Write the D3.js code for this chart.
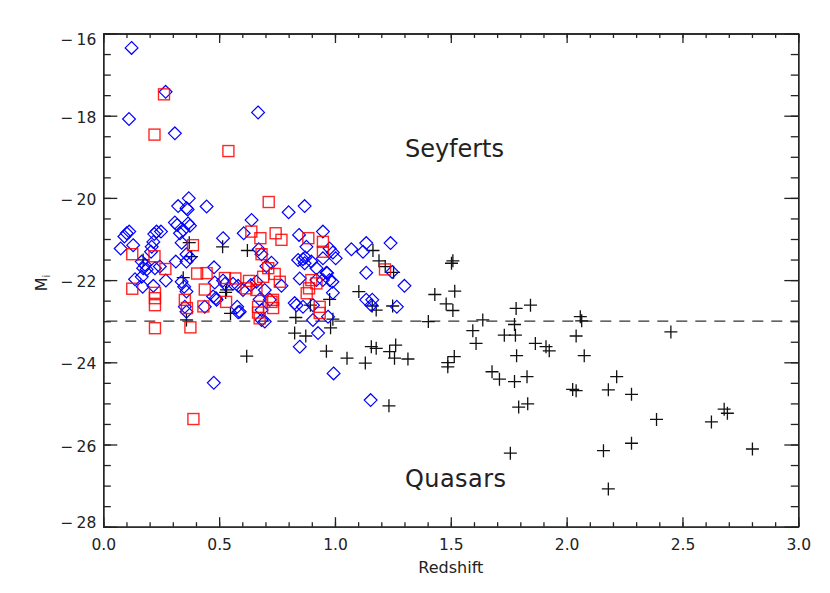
<!DOCTYPE html>
<html>
<head>
<meta charset="utf-8">
<script src="https://cdn.jsdelivr.net/npm/d3@7"></script>
<style>
  body { margin: 0; background: #fff; }
  text { font-family: "DejaVu Sans", "Noto Sans", sans-serif; fill: #222; }
</style>
</head>
<body>
<div id="chart"></div>
<script>
// quasars (black crosses): redshift, M_i
var quasarZ = [1.164, 1.190, 1.217, 1.253, 1.509, 1.503, 1.103, 1.431, 1.517, 0.977,
  1.480, 1.509, 1.161, 1.178, 1.249, 1.782, 1.844, 0.991, 0.981, 1.403,
  1.638, 1.775, 1.595, 1.731, 1.779, 1.609, 1.865, 1.911, 1.925, 0.963,
  1.157, 1.178, 1.262, 1.236, 1.257, 1.315, 1.052, 1.131, 1.515, 1.487,
  1.487, 1.784, 1.678, 1.710, 1.775, 1.829, 1.233, 1.793, 1.832, 2.059,
  2.065, 2.450, 2.041, 2.076, 2.216, 2.026, 2.041, 2.180, 2.280, 2.388,
  2.625, 2.680, 2.694, 2.159, 2.280, 2.802, 2.180, 1.757, 0.371, 0.515,
  0.381, 0.622, 0.345, 0.532, 0.528, 0.549, 0.359, 0.894, 0.831, 0.826,
  0.874, 0.619, 0.172];
var quasarM = [-21.28, -21.53, -21.67, -21.81, -21.53, -21.59, -22.28, -22.35, -22.27, -22.47,
  -22.58, -22.74, -22.63, -22.73, -22.63, -22.69, -22.61, -22.95, -23.16, -23.01,
  -22.97, -23.08, -23.23, -23.34, -23.34, -23.54, -23.54, -23.62, -23.72, -23.73,
  -23.62, -23.66, -23.58, -23.74, -23.90, -23.92, -23.90, -24.02, -23.86, -24.01,
  -24.11, -23.84, -24.23, -24.41, -24.47, -24.35, -25.06, -25.09, -25.01, -22.89,
  -22.99, -23.26, -23.36, -23.84, -24.35, -24.66, -24.69, -24.67, -24.78, -25.39,
  -25.45, -25.14, -25.24, -26.15, -25.97, -26.11, -27.08, -26.21, -21.09, -21.19,
  -21.43, -21.28, -21.94, -22.24, -22.30, -22.81, -22.97, -22.61, -22.91, -23.29,
  -23.36, -23.85, -21.51];

// red squares
var squareZ = [0.262, 0.221, 0.540, 0.714, 0.639, 0.678, 0.744, 0.769, 0.387, 0.125,
  0.221, 0.268, 0.405, 0.446, 0.525, 0.570, 0.629, 0.690, 0.740, 0.712,
  0.683, 0.125, 0.438, 0.223, 0.223, 0.223, 0.352, 0.361, 0.432, 0.530,
  0.618, 0.661, 0.668, 0.668, 0.675, 0.726, 0.733, 0.762, 0.885, 0.948,
  0.948, 0.898, 0.920, 0.888, 0.878, 0.934, 0.934, 0.223, 0.376, 0.389,
  1.216, 0.733];
var squareM = [-17.48, -18.46, -18.86, -20.10, -20.82, -20.98, -20.86, -21.02, -21.15, -21.37,
  -21.42, -21.73, -21.84, -21.83, -21.95, -21.96, -22.02, -21.92, -21.85, -21.71,
  -21.37, -22.21, -22.23, -22.31, -22.44, -22.61, -22.48, -22.68, -22.64, -22.53,
  -22.20, -22.24, -22.65, -22.79, -22.93, -22.53, -22.68, -22.04, -20.98, -21.07,
  -21.31, -22.00, -22.08, -22.20, -22.32, -22.65, -22.80, -23.17, -23.15, -25.38,
  -21.74, -22.48];

// blue diamonds
var diamondZ = [0.122, 0.269, 0.111, 0.309, 0.668, 0.369, 0.323, 0.364, 0.446, 0.309,
  0.319, 0.366, 0.374, 0.345, 0.331, 0.338, 0.230, 0.249, 0.101, 0.112,
  0.091, 0.220, 0.129, 0.075, 0.216, 0.209, 0.206, 0.166, 0.180, 0.172,
  0.187, 0.137, 0.166, 0.170, 0.270, 0.216, 0.244, 0.223, 0.313, 0.359,
  0.374, 0.359, 0.517, 0.478, 0.474, 0.486, 0.517, 0.338, 0.349, 0.359,
  0.352, 0.359, 0.438, 0.640, 0.606, 0.481, 0.525, 0.560, 0.582, 0.489,
  0.578, 0.582, 0.671, 0.683, 0.726, 0.637, 0.675, 0.719, 0.683, 0.697,
  0.359, 0.800, 0.869, 0.845, 0.948, 0.877, 0.841, 0.862, 0.869, 0.898,
  0.920, 0.848, 0.948, 0.920, 0.948, 0.963, 0.834, 0.862, 0.905, 0.927,
  0.704, 0.603, 0.661, 0.697, 0.589, 0.683, 0.769, 1.071, 1.121, 1.135,
  0.872, 0.977, 0.991, 1.135, 1.135, 0.826, 0.905, 0.970, 0.848, 1.240,
  0.977, 0.991, 1.003, 1.247, 1.300, 0.966, 0.989, 1.161, 1.157, 1.267,
  0.994, 1.154, 0.477];
var diamondM = [-16.35, -17.42, -18.08, -18.43, -17.92, -20.01, -20.20, -20.28, -20.21, -20.60,
  -20.66, -20.62, -20.68, -20.78, -20.86, -21.09, -20.82, -20.82, -20.86, -20.82,
  -20.94, -20.88, -21.15, -21.23, -21.07, -21.19, -21.31, -21.55, -21.63, -21.71,
  -21.74, -21.98, -21.92, -22.16, -22.01, -22.14, -21.67, -21.71, -21.55, -21.37,
  -21.45, -21.55, -20.98, -21.69, -22.40, -22.44, -22.01, -22.04, -22.16, -22.28,
  -22.65, -22.77, -22.65, -20.54, -20.86, -22.06, -22.09, -22.09, -22.14, -22.48,
  -22.65, -22.78, -21.25, -21.37, -21.58, -22.12, -22.47, -22.48, -22.73, -23.01,
  -20.25, -20.35, -20.20, -20.90, -20.82, -21.19, -21.51, -21.49, -21.59, -21.55,
  -21.71, -21.96, -21.47, -22.00, -22.00, -21.82, -22.61, -22.65, -22.61, -23.29,
  -21.66, -22.24, -22.04, -22.24, -22.77, -22.97, -22.14, -21.25, -21.31, -21.10,
  -21.45, -22.00, -22.31, -21.82, -22.48, -22.56, -22.97, -22.89, -23.62, -21.10,
  -21.23, -21.33, -21.47, -21.80, -22.14, -21.83, -22.04, -22.48, -22.61, -22.65,
  -24.27, -24.92, -24.50];

var xTicks = [0.0, 0.5, 1.0, 1.5, 2.0, 2.5, 3.0];
var yTicks = [-16, -18, -20, -22, -24, -26, -28];
var cutLine = -23;

var svgWidth = 830;
var svgHeight = 593;
var margin = { top: 33.5, right: 31.7, bottom: 66.3, left: 103.3 };
var width = svgWidth - margin.left - margin.right;
var height = svgHeight - margin.top - margin.bottom;

var svg = d3.select("#chart")
  .append("svg")
  .attr("width", svgWidth)
  .attr("height", svgHeight);

var chartGroup = svg.append("g")
  .attr("transform", `translate(${margin.left}, ${margin.top})`);

var xScale = d3.scaleLinear().domain([0, 3]).range([0, width]);
var yScale = d3.scaleLinear().domain([-16, -28]).range([0, height]);

// IDL style frame: ticks pointing inward on all four sides
function tickFormatMinus(d) {
  return "\u2212\u2009" + Math.abs(d);
}

var bottomAxis = d3.axisBottom(xScale).tickValues(xTicks).tickFormat(d3.format(".1f"))
  .tickSizeInner(-9.5).tickSizeOuter(0).tickPadding(12);
var bottomMinor = d3.axisBottom(xScale).tickValues(d3.range(0, 3.01, 0.1))
  .tickFormat("").tickSizeInner(-4.5).tickSizeOuter(0);
var topAxis = d3.axisTop(xScale).tickValues(xTicks).tickFormat("")
  .tickSizeInner(-9.5).tickSizeOuter(0);
var topMinor = d3.axisTop(xScale).tickValues(d3.range(0, 3.01, 0.1))
  .tickFormat("").tickSizeInner(-4.5).tickSizeOuter(0);
var leftAxis = d3.axisLeft(yScale).tickValues(yTicks).tickFormat(tickFormatMinus)
  .tickSizeInner(-14).tickSizeOuter(0).tickPadding(7);
var leftMinor = d3.axisLeft(yScale).tickValues(d3.range(-16, -28.01, -0.5))
  .tickFormat("").tickSizeInner(-7.5).tickSizeOuter(0);
var rightAxis = d3.axisRight(yScale).tickValues(yTicks).tickFormat("")
  .tickSizeInner(-14).tickSizeOuter(0);
var rightMinor = d3.axisRight(yScale).tickValues(d3.range(-16, -28.01, -0.5))
  .tickFormat("").tickSizeInner(-7.5).tickSizeOuter(0);

function styleAxis(g) {
  g.selectAll("path, line").attr("stroke", "#222").attr("stroke-width", 1.3);
  g.selectAll("text").attr("font-size", "15.5px").attr("fill", "#222")
    .style("font-family", "'DejaVu Sans', 'Noto Sans', sans-serif");
}

chartGroup.append("g").attr("transform", `translate(0, ${height})`).call(bottomMinor).call(styleAxis);
chartGroup.append("g").attr("transform", `translate(0, ${height})`).call(bottomAxis).call(styleAxis);
chartGroup.append("g").call(topMinor).call(styleAxis);
chartGroup.append("g").call(topAxis).call(styleAxis);
chartGroup.append("g").call(leftMinor).call(styleAxis);
chartGroup.append("g").call(leftAxis).call(styleAxis)
  .selectAll("text")
  .attr("dy", d => d === -16 ? "0.7em" : (d === -28 ? "0.05em" : "0.42em"));
chartGroup.append("g").attr("transform", `translate(${width}, 0)`).call(rightMinor).call(styleAxis);
chartGroup.append("g").attr("transform", `translate(${width}, 0)`).call(rightAxis).call(styleAxis);

// dashed dividing line at M_i = -23
chartGroup.append("line")
  .attr("x1", 0)
  .attr("x2", width)
  .attr("y1", yScale(cutLine))
  .attr("y2", yScale(cutLine))
  .attr("stroke", "#333")
  .attr("stroke-width", 1.3)
  .attr("stroke-dasharray", "11,8")
  .attr("stroke-dashoffset", -3);

var quasars = d3.zip(quasarZ, quasarM);
var squares = d3.zip(squareZ, squareM);
var diamonds = d3.zip(diamondZ, diamondM);

// crosses
chartGroup.selectAll(".quasar")
  .data(quasars)
  .enter()
  .append("path")
  .attr("class", "quasar")
  .attr("d", "M-6.5,0H6.5M0,-6.5V6.5")
  .attr("transform", d => `translate(${xScale(d[0])}, ${yScale(d[1])})`)
  .attr("fill", "none")
  .attr("stroke", "#111")
  .attr("stroke-width", 1.3);

// diamonds
chartGroup.selectAll(".diamond")
  .data(diamonds)
  .enter()
  .append("path")
  .attr("class", "diamond")
  .attr("d", "M0,-6.4L6.4,0L0,6.4L-6.4,0Z")
  .attr("transform", d => `translate(${xScale(d[0])}, ${yScale(d[1])})`)
  .attr("fill", "none")
  .attr("stroke", "#0000ff")
  .attr("stroke-width", 1.2);

// squares
chartGroup.selectAll(".square")
  .data(squares)
  .enter()
  .append("rect")
  .attr("class", "square")
  .attr("x", d => xScale(d[0]) - 5.5)
  .attr("y", d => yScale(d[1]) - 5.5)
  .attr("width", 11)
  .attr("height", 11)
  .attr("fill", "none")
  .attr("stroke", "#ff0000")
  .attr("stroke-opacity", 0.85)
  .attr("stroke-width", 1.4);

// region labels
svg.append("text")
  .attr("x", 405)
  .attr("y", 157)
  .attr("font-size", "24px")
  .attr("textLength", 99)
  .text("Seyferts");

svg.append("text")
  .attr("x", 405)
  .attr("y", 487)
  .attr("font-size", "24px")
  .attr("textLength", 101)
  .text("Quasars");

// axis titles
svg.append("text")
  .attr("x", margin.left + width / 2)
  .attr("y", 573)
  .attr("text-anchor", "middle")
  .attr("font-size", "16px")
  .text("Redshift");

var yTitle = svg.append("text")
  .attr("transform", "translate(47, 283) rotate(-90)")
  .attr("text-anchor", "middle")
  .attr("font-size", "16px");
yTitle.append("tspan").text("M");
yTitle.append("tspan").attr("dy", "3").attr("font-size", "10px").text("i");
</script>
</body>
</html>
